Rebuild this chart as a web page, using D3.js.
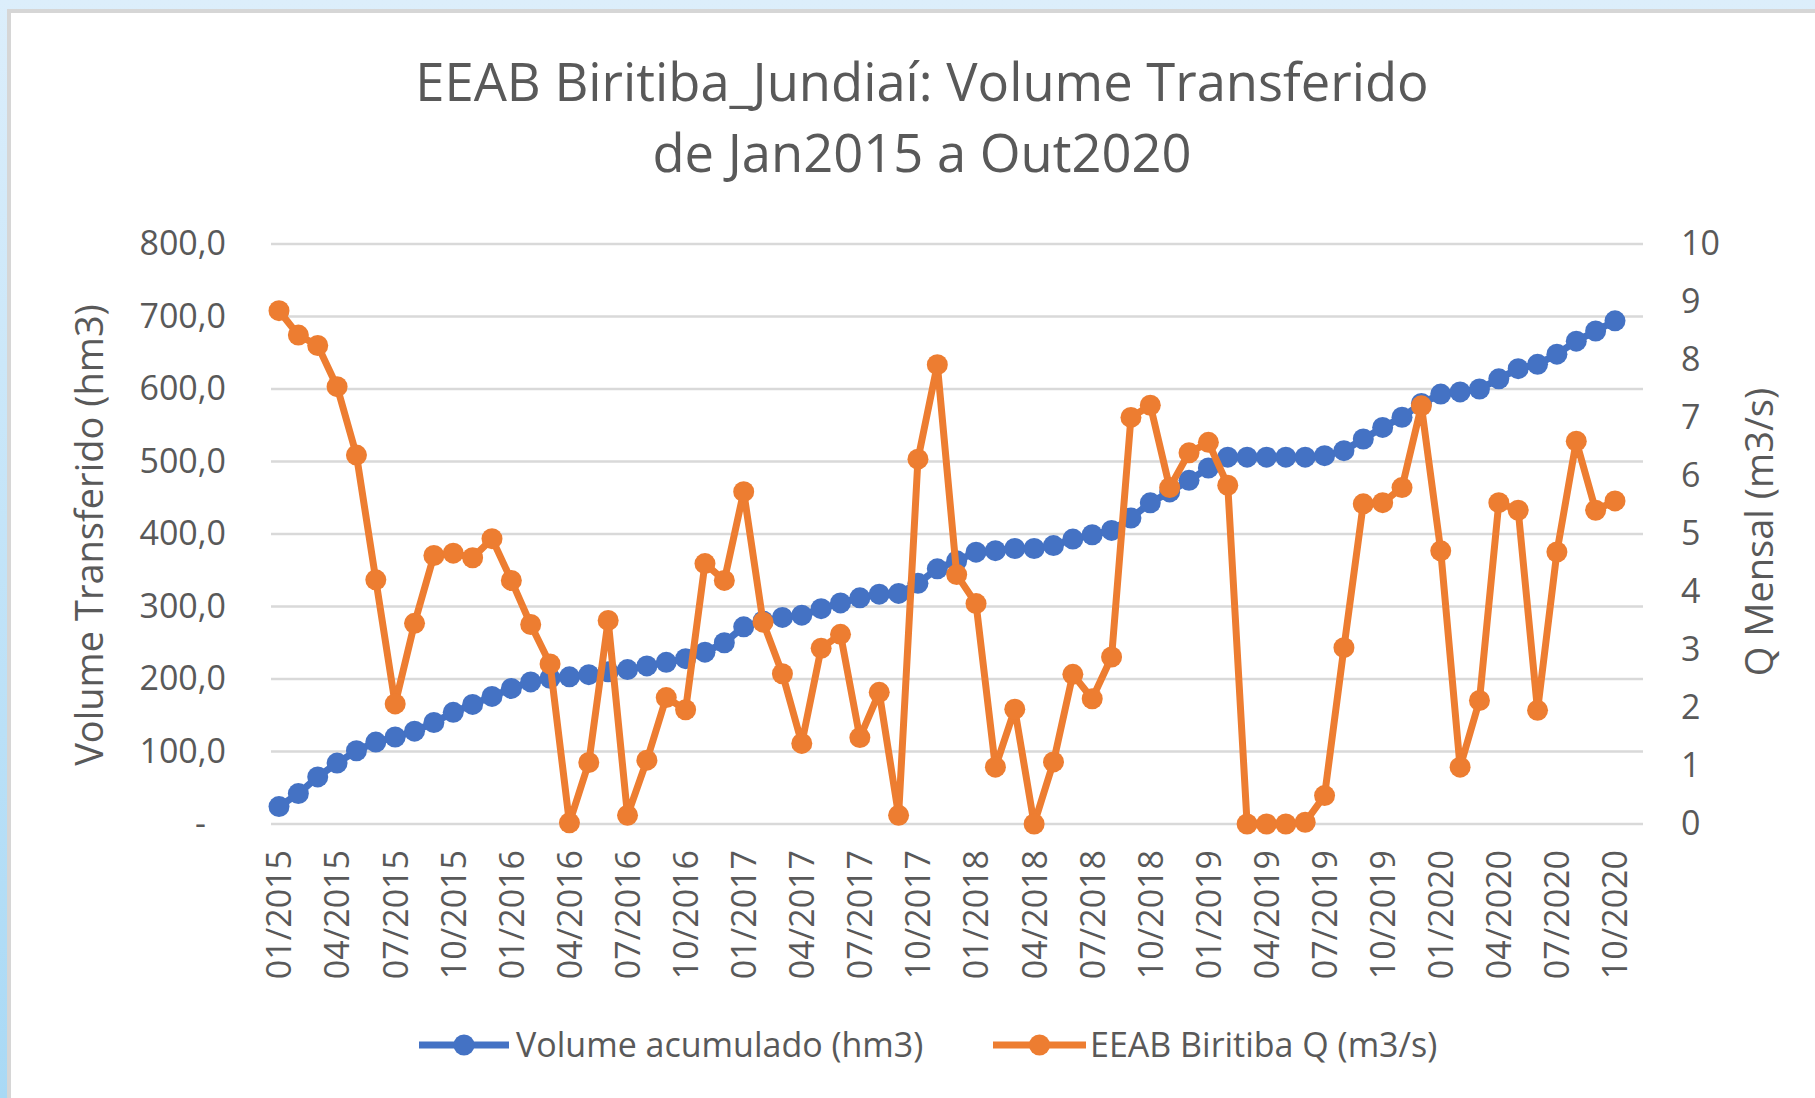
<!DOCTYPE html>
<html>
<head>
<meta charset="utf-8">
<script src="https://cdn.jsdelivr.net/npm/d3@7"></script>
<style>
html,body{margin:0;padding:0;background:#fff;}
svg{display:block;}
</style>
</head>
<body>
<script>
// ---- DATA ----
const categories = [];
const years = [2015,2016,2017,2018,2019,2020];
years.forEach(y => { for (let m = 1; m <= 12; m++) { if (y === 2020 && m > 10) break; categories.push(String(m).padStart(2,"0") + "/" + y); } });

const volumeAcumulado = [24,42,65,84,101,113,120,128,140,154,165,176,
  187,196,201,203,206,210,213,218,223,228,237,250,
  272,280,285,288,297,305,312,317,318,332,352,363,
  375,377,380,380,384,393,399,405,422,443,458,474,
  491,506,506,506,506,506,508,515,531,547,561,580,
  593,596,600,614,628,634,648,666,680,694];

const vazaoQ = [8.85,8.43,8.25,7.54,6.36,4.21,2.07,3.46,4.63,4.67,4.59,4.92,
  4.20,3.44,2.76,0.02,1.06,3.51,0.15,1.10,2.18,1.97,4.49,4.20,
  5.73,3.48,2.59,1.39,3.03,3.27,1.49,2.27,0.15,6.29,7.92,4.30,
  3.80,0.98,1.98,0.00,1.07,2.58,2.16,2.88,7.01,7.22,5.80,6.40,
  6.58,5.84,0.00,0.00,0.00,0.03,0.49,3.04,5.52,5.54,5.80,7.21,
  4.71,0.98,2.13,5.54,5.41,1.96,4.69,6.60,5.41,5.57];

const leftTicks = [0,100,200,300,400,500,600,700,800];
const rightTicks = [0,1,2,3,4,5,6,7,8,9,10];
const xTickLabels = categories.filter((d,i) => i % 3 === 0);

const titleLines = ["EEAB Biritiba_Jundiaí: Volume Transferido", "de Jan2015 a Out2020"];
const seriesNames = ["Volume acumulado (hm3)", "EEAB Biritiba Q (m3/s)"];
const leftTitle = "Volume Transferido (hm3)";
const rightTitle = "Q Mensal (m3/s)";

// ---- DRAW ----
const W = 1815, H = 1098;
const blue = "#4472C4", orange = "#ED7D31", txt = "#595959", grid = "#D9D9D9";
const font = "'Open Sans', 'Noto Sans', sans-serif";
const tickFs = 34;

const svg = d3.select("body").append("svg").attr("width", W).attr("height", H);
const defs = svg.append("defs");
const lg = defs.append("linearGradient").attr("id","bg").attr("x1",0).attr("y1",0).attr("x2",0).attr("y2",1);
lg.append("stop").attr("offset","0%").attr("stop-color","#DCEEFB");
lg.append("stop").attr("offset","100%").attr("stop-color","#A9D9F5");
svg.append("rect").attr("width",W).attr("height",H).attr("fill","url(#bg)");
svg.append("rect").attr("x",7).attr("y",9).attr("width",W).attr("height",H).attr("fill","#D6D6D6");
svg.append("rect").attr("x",11).attr("y",13).attr("width",W).attr("height",H).attr("fill","#FFFFFF");

const plotL = 271, plotR = 1643, plotT = 244, plotB = 824;
const x = d3.scalePoint().domain(categories).range([279, 1615]);
const yL = d3.scaleLinear().domain([0,800]).range([plotB, plotT]);
const yR = d3.scaleLinear().domain([0,10]).range([plotB, plotT]);

// gridlines
svg.append("g").selectAll("line").data(leftTicks).join("line")
  .attr("x1", plotL).attr("x2", plotR)
  .attr("y1", d => yL(d)).attr("y2", d => yL(d))
  .attr("stroke", grid).attr("stroke-width", 2.6);

// left axis
const fmt = d => d === 0 ? "-" : d3.format(".1f")(d).replace(".", ",");
const gL = svg.append("g").attr("transform", `translate(${plotL},0)`)
  .call(d3.axisLeft(yL).tickValues(leftTicks).tickFormat(fmt).tickSize(0).tickPadding(45));
gL.select(".domain").remove();
gL.selectAll("text").attr("font-family", font).attr("font-size", tickFs).attr("fill", txt)
  .attr("dx", d => d === 0 ? -20 : 0);

// right axis
const gR = svg.append("g").attr("transform", `translate(${plotR},0)`)
  .call(d3.axisRight(yR).tickValues(rightTicks).tickFormat(d3.format("d")).tickSize(0).tickPadding(38));
gR.select(".domain").remove();
gR.selectAll("text").attr("font-family", font).attr("font-size", tickFs).attr("fill", txt);

// bottom axis
const gB = svg.append("g").attr("transform", `translate(0,${plotB})`)
  .call(d3.axisBottom(x).tickValues(xTickLabels).tickSize(0).tickPadding(0));
gB.select(".domain").remove();
gB.selectAll("text").attr("font-family", font).attr("font-size", tickFs).attr("fill", txt)
  .attr("transform", "rotate(-90)").attr("text-anchor", "end")
  .attr("x", -26).attr("y", 0).attr("dy", "0.35em");

// lines
const lineL = d3.line().x((d,i) => x(categories[i])).y(d => yL(d));
const lineR = d3.line().x((d,i) => x(categories[i])).y(d => yR(d));

svg.append("path").datum(volumeAcumulado).attr("d", lineL)
  .attr("fill","none").attr("stroke", blue).attr("stroke-width", 7).attr("stroke-linejoin","round");
svg.append("g").selectAll("circle").data(volumeAcumulado).join("circle")
  .attr("cx", (d,i) => x(categories[i])).attr("cy", d => yL(d)).attr("r", 10.5).attr("fill", blue);

svg.append("path").datum(vazaoQ).attr("d", lineR)
  .attr("fill","none").attr("stroke", orange).attr("stroke-width", 7).attr("stroke-linejoin","round");
svg.append("g").selectAll("circle").data(vazaoQ).join("circle")
  .attr("cx", (d,i) => x(categories[i])).attr("cy", d => yR(d)).attr("r", 10.5).attr("fill", orange);

// title
svg.append("g").selectAll("text").data(titleLines).join("text")
  .attr("x", 922).attr("y", (d,i) => 83 + i*71).attr("dy","0.35em")
  .attr("text-anchor","middle").attr("font-family", font).attr("font-size", 52.5).attr("fill", txt)
  .text(d => d);

// axis titles
svg.append("text").attr("transform", "translate(90,535) rotate(-90)").attr("dy","0.35em")
  .attr("text-anchor","middle").attr("font-family", font).attr("font-size", 38).attr("fill", txt)
  .text(leftTitle);
svg.append("text").attr("transform", "translate(1760,532) rotate(-90)").attr("dy","0.35em")
  .attr("text-anchor","middle").attr("font-family", font).attr("font-size", 38).attr("fill", txt)
  .text(rightTitle);

// legend
const legend = [
  {name: seriesNames[0], color: blue, x1: 419, x2: 509, tx: 516},
  {name: seriesNames[1], color: orange, x1: 993, x2: 1086, tx: 1090}
];
const lgG = svg.append("g");
legend.forEach(l => {
  lgG.append("line").attr("x1", l.x1).attr("x2", l.x2).attr("y1", 1045).attr("y2", 1045)
    .attr("stroke", l.color).attr("stroke-width", 7);
  lgG.append("circle").attr("cx", (l.x1+l.x2)/2).attr("cy", 1045).attr("r", 10.5).attr("fill", l.color);
  lgG.append("text").attr("x", l.tx).attr("y", 1045).attr("dy","0.35em")
    .attr("font-family", font).attr("font-size", 34).attr("fill", txt).text(l.name);
});
</script>
</body>
</html>
